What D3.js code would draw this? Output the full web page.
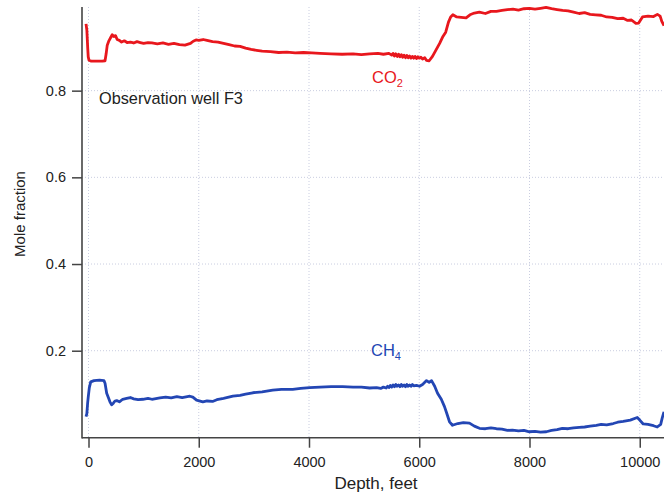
<!DOCTYPE html>
<html><head><meta charset="utf-8">
<script src="https://cdn.jsdelivr.net/npm/d3@7"></script>
<style>
body{margin:0;background:#fff;}
svg{display:block;font-family:"Liberation Sans",Arial,Helvetica,sans-serif;}
</style></head>
<body>
<svg id="c" width="664" height="494"></svg>
<script>
const xTicks = [0, 2000, 4000, 6000, 8000, 10000];
const yTicks = [0.2, 0.4, 0.6, 0.8];
const co2Depth = [-45,-30,-15,-5,10,50,150,250,300,320,340,370,400,430,460,490,520,560,600,650,700,760,820,880,940,1000,1080,1150,1250,1350,1450,1550,1650,1750,1850,1900,1950,2000,2080,2150,2250,2350,2450,2550,2650,2750,2850,2950,3050,3150,3300,3450,3600,3750,3900,4050,4200,4400,4600,4800,4950,5100,5250,5350,5450,5500,5525,5550,5575,5600,5625,5650,5675,5700,5725,5750,5775,5800,5825,5850,5875,5900,5925,5950,5975,6000,6030,6060,6100,6130,6180,6240,6300,6370,6430,6480,6530,6570,6610,6680,6760,6850,6920,7000,7090,7200,7300,7400,7500,7600,7700,7800,7900,8000,8100,8200,8300,8400,8500,8600,8700,8800,8900,9000,9100,9200,9300,9400,9500,9600,9700,9780,9850,9930,9980,10050,10150,10250,10320,10370,10400,10440];
const co2Value = [0.954,0.94,0.9,0.878,0.870,0.868,0.868,0.868,0.869,0.885,0.905,0.915,0.922,0.929,0.925,0.927,0.918,0.916,0.912,0.915,0.911,0.912,0.910,0.913,0.911,0.909,0.911,0.910,0.908,0.910,0.907,0.909,0.906,0.905,0.909,0.914,0.917,0.916,0.918,0.916,0.913,0.912,0.909,0.906,0.903,0.902,0.898,0.895,0.893,0.891,0.890,0.888,0.889,0.887,0.888,0.887,0.886,0.885,0.884,0.885,0.883,0.885,0.886,0.884,0.886,0.882,0.886,0.880,0.885,0.879,0.884,0.878,0.883,0.877,0.882,0.876,0.881,0.876,0.880,0.875,0.879,0.875,0.879,0.874,0.878,0.875,0.877,0.873,0.876,0.870,0.869,0.879,0.893,0.909,0.925,0.935,0.958,0.970,0.975,0.970,0.969,0.968,0.975,0.979,0.981,0.978,0.983,0.983,0.985,0.987,0.988,0.986,0.989,0.990,0.988,0.990,0.992,0.989,0.987,0.985,0.984,0.981,0.978,0.980,0.976,0.975,0.974,0.970,0.969,0.966,0.967,0.962,0.963,0.955,0.956,0.970,0.972,0.971,0.976,0.972,0.960,0.950];
const ch4Depth = [-45,-30,-15,-4,15,40,100,200,280,300,330,360,389,420,450,480,511,560,620,692,760,820,900,987,1080,1150,1295,1400,1500,1603,1700,1839,1893,1960,2074,2150,2250,2328,2450,2618,2750,2850,2980,3150,3342,3500,3705,3850,4013,4200,4400,4611,4800,4950,5100,5226,5300,5350,5400,5425,5450,5475,5500,5525,5550,5575,5600,5625,5650,5675,5700,5725,5750,5775,5800,5825,5850,5875,5900,5950,6005,6060,6132,6180,6223,6280,6332,6400,6458,6500,6549,6603,6700,6800,6911,7000,7092,7200,7300,7400,7500,7600,7690,7800,7900,7998,8100,8200,8306,8400,8500,8596,8700,8800,8904,9000,9100,9212,9300,9400,9520,9600,9700,9828,9955,10000,10063,10150,10250,10317,10380,10408,10440];
const ch4Value = [0.048,0.055,0.08,0.094,0.115,0.128,0.131,0.132,0.131,0.125,0.102,0.092,0.082,0.075,0.079,0.084,0.085,0.082,0.088,0.090,0.092,0.089,0.087,0.088,0.090,0.088,0.091,0.093,0.091,0.094,0.092,0.095,0.093,0.086,0.082,0.084,0.083,0.087,0.090,0.095,0.097,0.100,0.103,0.105,0.109,0.111,0.111,0.113,0.115,0.116,0.117,0.117,0.116,0.116,0.114,0.115,0.113,0.116,0.114,0.118,0.115,0.120,0.116,0.121,0.117,0.122,0.118,0.121,0.117,0.122,0.118,0.121,0.117,0.122,0.118,0.121,0.118,0.122,0.119,0.120,0.118,0.122,0.131,0.127,0.131,0.118,0.102,0.088,0.071,0.055,0.036,0.028,0.032,0.034,0.033,0.026,0.021,0.020,0.022,0.020,0.019,0.016,0.017,0.015,0.016,0.013,0.014,0.012,0.013,0.016,0.018,0.021,0.020,0.022,0.023,0.024,0.026,0.028,0.030,0.029,0.032,0.035,0.037,0.040,0.046,0.040,0.031,0.030,0.027,0.024,0.030,0.045,0.059];

(function () {
const svg = d3.select("#c");
const pl = 82, pr = 664, pt = 7, pb = 437.7;
const x = d3.scaleLinear().domain([-118, 10440]).range([pl, pr]);
const y = d3.scaleLinear().domain([0, 0.993]).range([437.4, pt]);

// grid
const grid = svg.append("g").attr("stroke", "#c9cde0").attr("stroke-width", 1).attr("stroke-dasharray", "1,2");
grid.selectAll("line.v").data(xTicks).join("line").attr("class", "v")
  .attr("x1", d => x(d)).attr("x2", d => x(d)).attr("y1", pt).attr("y2", pb);
grid.selectAll("line.h").data(yTicks).join("line").attr("class", "h")
  .attr("x1", pl).attr("x2", pr).attr("y1", d => y(d)).attr("y2", d => y(d));

// lines
const line = d3.line().x(d => x(d[0])).y(d => y(d[1]));
svg.append("path").datum(co2Depth.map((d, i) => [d, co2Value[i]]))
  .attr("d", line).attr("fill", "none").attr("stroke", "#e8171d").attr("stroke-width", 2.8).attr("stroke-linejoin", "round");
svg.append("path").datum(ch4Depth.map((d, i) => [d, ch4Value[i]]))
  .attr("d", line).attr("fill", "none").attr("stroke", "#2346b4").attr("stroke-width", 2.8).attr("stroke-linejoin", "round");

// axes
const xa = svg.append("g").attr("transform", `translate(0,${pb})`)
  .call(d3.axisBottom(x).tickValues(xTicks).tickFormat(d3.format("d")).tickSize(10).tickPadding(9));
const ya = svg.append("g").attr("transform", `translate(${pl},0)`)
  .call(d3.axisLeft(y).tickValues(yTicks).tickFormat(d3.format(".1f")).tickSize(10).tickPadding(6));
[xa, ya].forEach(g => {
  g.select(".domain").remove();
  g.selectAll(".tick line").attr("stroke", "#444").attr("stroke-width", 1.5);
  g.selectAll(".tick text").attr("fill", "#222").style("font-size", "14.5px").style("font-family", "'Liberation Sans',Arial,sans-serif");
});
svg.append("line").attr("x1", pl).attr("x2", pl).attr("y1", pt).attr("y2", pb + 0.75).attr("stroke", "#444").attr("stroke-width", 1.6);
svg.append("line").attr("x1", pl).attr("x2", pr).attr("y1", pb).attr("y2", pb).attr("stroke", "#444").attr("stroke-width", 1.6);

// titles
svg.append("text").attr("x", 376).attr("y", 489).attr("text-anchor", "middle")
  .attr("fill", "#222").style("font-size", "17px").text("Depth, feet");
svg.append("text").attr("transform", "translate(25,214) rotate(-90)").attr("text-anchor", "middle")
  .attr("fill", "#222").style("font-size", "15px").text("Mole fraction");
svg.append("text").attr("x", 99).attr("y", 104).attr("fill", "#222").style("font-size", "16.3px").text("Observation well F3");

const co2 = svg.append("text").attr("x", 372).attr("y", 83).attr("fill", "#e8171d").style("font-size", "16.5px");
co2.append("tspan").text("CO");
co2.append("tspan").attr("dy", 4).style("font-size", "11px").text("2");
const ch4 = svg.append("text").attr("x", 371).attr("y", 356).attr("fill", "#2346b4").style("font-size", "16.5px");
ch4.append("tspan").text("CH");
ch4.append("tspan").attr("dy", 4).style("font-size", "11px").text("4");
})();
</script>
</body></html>
